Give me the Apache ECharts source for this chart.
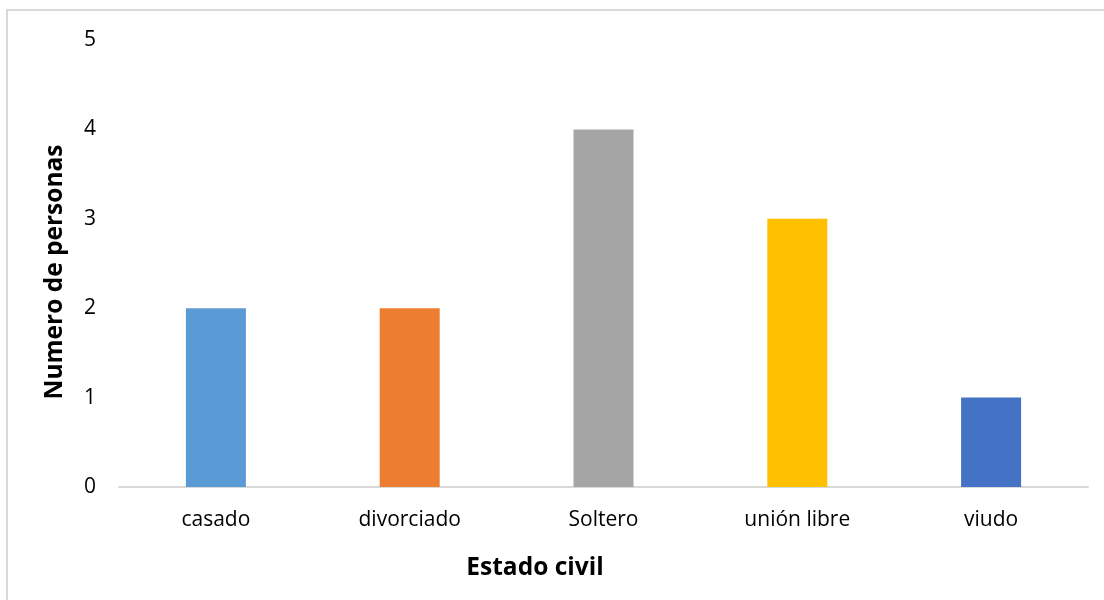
<!DOCTYPE html>
<html>
<head>
<meta charset="utf-8">
<script src="https://cdn.jsdelivr.net/npm/echarts@6/dist/echarts.min.js"></script>
<style>
  html, body { margin: 0; padding: 0; background: #fff; }
  #chart { width: 1104px; height: 600px; }
</style>
</head>
<body>
<div id="chart"></div>
<script>
// Estado civil de los encuestados
const categories = ['casado', 'divorciado', 'Soltero', 'unión libre', 'viudo'];
const values = [2, 2, 4, 3, 1];
const barColors = ['#5B9BD5', '#ED7D31', '#A5A5A5', '#FFC000', '#4472C4'];
const yTicks = [0, 1, 2, 3, 4, 5];

const FONT = '"Open Sans", "Noto Sans", sans-serif';

const chart = echarts.init(document.getElementById('chart'), null, { renderer: 'canvas' });

chart.setOption({
  animation: false,
  backgroundColor: '#ffffff',
  grid: { left: 119, right: 16, top: 40, bottom: 113 },
  graphic: [
    {
      type: 'rect',
      shape: { x: 7, y: 10, width: 1110, height: 600 },
      style: { fill: 'none', stroke: '#d9d9d9', lineWidth: 2 },
      silent: true
    },
    {
      type: 'text',
      x: 55, y: 272,
      rotation: Math.PI / 2,
      style: {
        text: 'Numero de personas',
        font: 'bold 24.5px ' + FONT,
        fill: '#000',
        align: 'center',
        verticalAlign: 'middle'
      }
    },
    {
      type: 'text',
      x: 535, y: 568,
      style: {
        text: 'Estado civil',
        font: 'bold 24.5px ' + FONT,
        fill: '#000',
        align: 'center',
        verticalAlign: 'middle'
      }
    }
  ],
  xAxis: {
    type: 'category',
    data: categories,
    axisLine: { show: true, lineStyle: { color: '#d9d9d9', width: 2 } },
    axisTick: { show: false },
    axisLabel: { color: '#000', fontSize: 21, fontFamily: FONT, margin: 23 },
    splitLine: { show: false }
  },
  yAxis: {
    type: 'value',
    min: yTicks[0],
    max: yTicks[yTicks.length - 1],
    interval: 1,
    axisLine: { show: false },
    axisTick: { show: false },
    splitLine: { show: false },
    axisLabel: { color: '#000', fontSize: 21, fontFamily: FONT, margin: 23 }
  },
  series: [{
    type: 'bar',
    data: values.map((v, i) => ({ value: v, itemStyle: { color: barColors[i] } })),
    barWidth: 60
  }]
});
</script>
</body>
</html>
